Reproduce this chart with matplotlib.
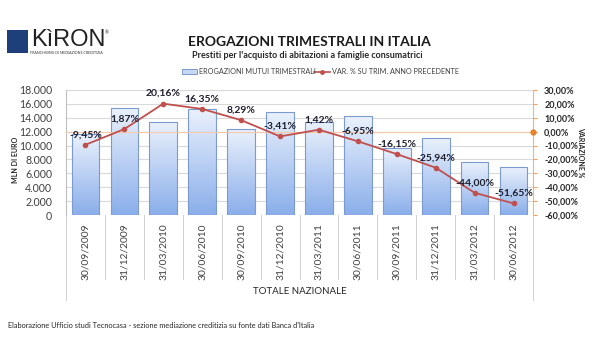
import matplotlib
matplotlib.use("Agg")
import matplotlib.pyplot as plt
import numpy as np
from matplotlib.ticker import FuncFormatter, MultipleLocator
from matplotlib.colors import LinearSegmentedColormap
import matplotlib.transforms as mtransforms
from matplotlib.patches import Rectangle
from matplotlib.lines import Line2D

categories = ["30/09/2009", "31/12/2009", "31/03/2010", "30/06/2010", "30/09/2010",
              "31/12/2010", "31/03/2011", "30/06/2011", "30/09/2011", "31/12/2011",
              "31/03/2012", "30/06/2012"]
erogazioni = [11600, 15400, 13350, 15250, 12350, 14900, 13450, 14200, 9700, 11050, 7600, 6900]
variazione = [-9.45, 1.87, 20.16, 16.35, 8.29, -3.41, 1.42, -6.95, -16.15, -25.94, -44.00, -51.65]
var_labels = ["-9,45%", "1,87%", "20,16%", "16,35%", "8,29%", "-3,41%", "1,42%", "-6,95%",
              "-16,15%", "-25,94%", "-44,00%", "-51,65%"]

plt.rcParams['font.family'] = ['Lato', 'DejaVu Sans']

fig = plt.figure(figsize=(6, 3.5), dpi=100)
ax = fig.add_axes([66/600, 1-215/350, (533-66)/600, 125/350])
ax2 = ax.twinx()

x = np.arange(len(categories))
bars = ax.bar(x, erogazioni, width=0.71, color='none', edgecolor='#7b9bd0', linewidth=0.8, zorder=3)
cmap = LinearSegmentedColormap.from_list('g', ['#8aaeea', '#eaf1fc'])
grad = np.linspace(0, 1, 256).reshape(-1, 1)
for b in bars:
    bx, by = b.get_x(), b.get_y()
    w, h = b.get_width(), b.get_height()
    im = ax.imshow(grad, cmap=cmap, origin='lower', aspect='auto',
                   extent=[bx, bx + w, by, by + h], zorder=2)
    im.set_clip_path(b)

ax.set_xlim(-0.5, len(categories) - 0.5)
ax.set_ylim(0, 18000)
ax.yaxis.set_major_locator(MultipleLocator(2000))
ax.yaxis.set_major_formatter(FuncFormatter(lambda v, p: f"{int(v):,}".replace(",", ".")))
ax.grid(axis='y', color='#d9d9d9', linewidth=0.8, zorder=0)
ax.set_axisbelow(True)
ax.set_xticks(x)
ax.set_xticklabels(categories, rotation=90, fontsize=7.4, color='#404040')
ax.tick_params(axis='x', length=0, pad=6)
ax.tick_params(axis='y', labelsize=7.6, colors='#404040', length=0, pad=10)
for s in ['top', 'right', 'bottom']:
    ax.spines[s].set_visible(False)
ax.spines['left'].set_color('#bfbfbf')

ax2.set_ylim(-60, 30)
ax2.yaxis.set_major_locator(MultipleLocator(10))
ax2.yaxis.set_major_formatter(FuncFormatter(lambda v, p: f"{v:.2f}%".replace(".", ",")))
ax2.tick_params(axis='y', labelsize=6.5, colors='#f0a060', length=3, width=0.8, pad=5)
for lab in ax2.get_yticklabels():
    lab.set_color('#262626')
    lab.set_fontweight('bold')
for s in ['top', 'left', 'bottom']:
    ax2.spines[s].set_visible(False)
ax2.spines['right'].set_color('#f5b27a')

ax2.axhline(0, color='#f7c9a8', linewidth=0.8, zorder=1)
ax2.plot([len(categories) - 0.5], [0], 'o', color='#e8822f', markersize=3.5, clip_on=False, zorder=6)
ax2.plot(x, variazione, color='#c0504d', linewidth=1.3, marker='o', markersize=3, zorder=5)
for xi, v, lab in zip(x, variazione, var_labels):
    ax2.annotate(lab, (xi, v), xytext=(0, 4), textcoords='offset points', ha='center', va='bottom',
                 fontsize=7.5, fontweight='bold', color='#1f1f2e', zorder=7)

ax.set_zorder(ax2.get_zorder() - 1)
ax2.patch.set_visible(False)

# category separators below axis
trans = mtransforms.blended_transform_factory(ax.transData, fig.transFigure)
for i in range(len(categories) + 1):
    xe = i - 0.5
    bottom = 1 - 300/350 if i in (0, len(categories)) else 1 - 279/350
    ax.add_line(Line2D([xe, xe], [1 - 215/350, bottom], transform=trans, color='#d0d0d0',
                       linewidth=0.7, clip_on=False))

fig.text((66 + 533) / 2 / 600, 1 - 292/350, "TOTALE NAZIONALE", ha='center', va='center',
         fontsize=7, color='#262626')

fig.text(15/600, 1 - 160/350, "MLN DI EURO", rotation=90, ha='center', va='center',
         fontsize=5, fontweight='bold', color='#262626')
fig.text(581/600, 1 - 152/350, "VARIAZIONE %", rotation=270, ha='center', va='center',
         fontsize=5, fontweight='bold', color='#262626')

fig.text(309/600, 1 - 42/350, "EROGAZIONI TRIMESTRALI IN ITALIA", ha='center', va='center',
         fontsize=10, fontweight='bold', color='#1a1a1a')
fig.text(307/600, 1 - 55/350, "Prestiti per l'acquisto di abitazioni a famiglie consumatrici",
         ha='center', va='center', fontsize=6.5, fontweight='bold', color='#262626')

# legend
fig.patches.append(Rectangle((182/600, 1 - 74/350), 15/600, 5/350, transform=fig.transFigure,
                             facecolor='#c6d8f5', edgecolor='#7b9bd0', linewidth=0.7))
fig.text(199/600, 1 - 71.5/350, "EROGAZIONI MUTUI TRIMESTRALI", ha='left', va='center',
         fontsize=5.2, color='#404040')
fig.lines.append(Line2D([314/600, 322/600, 330/600], [1 - 71.5/350] * 3, transform=fig.transFigure,
                        color='#c0504d', linewidth=1.2, marker='o', markersize=2.5, markevery=[1]))
fig.text(332/600, 1 - 71.5/350, "VAR. % SU TRIM. ANNO PRECEDENTE", ha='left', va='center',
         fontsize=5.2, color='#404040')

# logo
fig.patches.append(Rectangle((7/600, 1 - 53/350), 21/600, 23/350, transform=fig.transFigure,
                             facecolor='#1f3f7a', edgecolor='none'))
fig.text(31/600, 1 - 40/350, "KìRON", ha='left', va='center', fontsize=17,
         family=['Liberation Sans', 'DejaVu Sans'], color='#222222')
fig.text(30/600, 1 - 53.5/350, "FRANCHISING DI MEDIAZIONE CREDITIZIA", ha='left', va='center',
         fontsize=2.6, color='#333333')
fig.text(105/600, 1 - 33/350, "®", ha='left', va='center', fontsize=3.5, color='#333333')

fig.text(8/600, 1 - 325/350,
         "Elaborazione Ufficio studi Tecnocasa - sezione mediazione creditizia su fonte dati Banca d'Italia",
         ha='left', va='center', fontsize=5.3, color='#262626')

fig.savefig("out.png", dpi=100, facecolor='white')
